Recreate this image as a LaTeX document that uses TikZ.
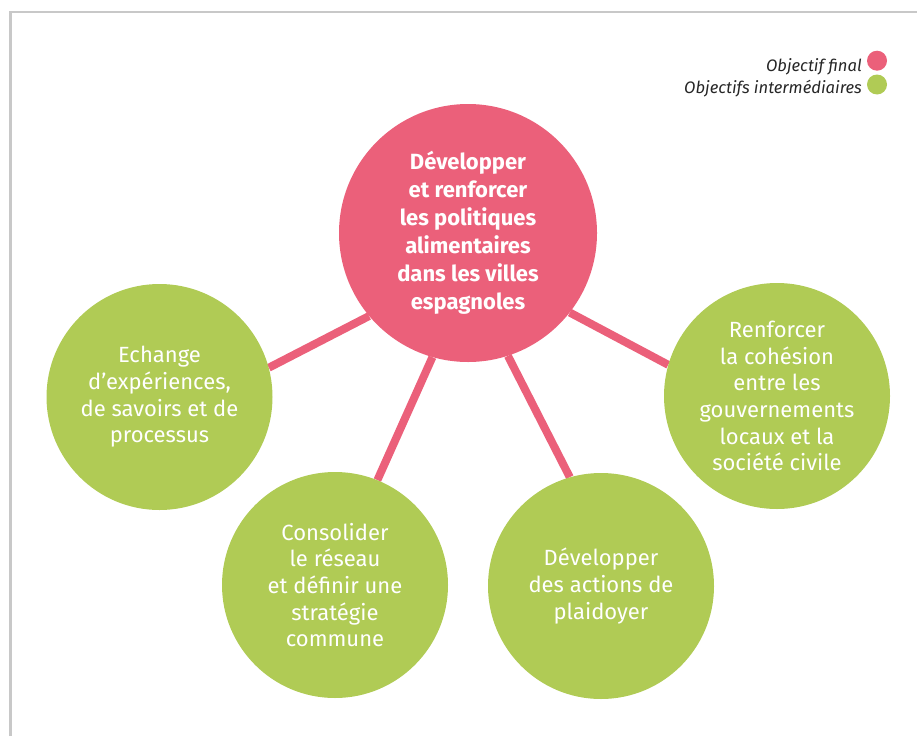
\documentclass[tikz,border=0pt]{standalone}
\usepackage{fontspec}
\setmainfont{Fira Sans}
\newfontfamily\cond{Fira Sans}
\newfontfamily\legfont{Fira Sans}
\usetikzlibrary{backgrounds}
\definecolor{pinkc}{HTML}{EB607A}
\definecolor{greenc}{HTML}{B0CB55}
\definecolor{framec}{HTML}{C8C8C8}
\begin{document}
\begin{tikzpicture}[x=1pt,y=-1pt,
  goal/.style={circle, fill=pinkc, minimum size=258pt, inner sep=0pt, text=white, align=center, font=\cond\bfseries\fontsize{22}{28}\selectfont},
  sub/.style={circle, fill=greenc, minimum size=226pt, inner sep=0pt, text=white, align=center, font=\cond\fontsize{22}{26.6}\selectfont},
  link/.style={draw=pinkc, line width=8pt},
  leg/.style={font=\legfont\itshape\fontsize{16.6}{19}\selectfont, anchor=base east, inner sep=0pt, text=black!85},
  dot/.style={circle, inner sep=0pt, minimum size=20pt}]
\useasboundingbox (0,0) rectangle (917,736);
\draw[framec, line width=2.7pt] (10.7,736) -- (10.7,12) -- (917,12);

\node[goal] (red) at (468,233) {Développer\\et renforcer\\les politiques\\alimentaires\\dans les villes\\espagnoles};
\node[sub] (gl) at (159.5,397) {Echange\\d’expériences,\\de savoirs et de\\processus};
\node[sub] (gbl) at (335,585) {Consolider\\le réseau\\et définir une\\stratégie\\commune};
\node[sub] (gbr) at (601,586) {Développer\\des actions de\\plaidoyer};
\node[sub] (gr) at (777,396) {Renforcer\\la cohésion\\entre les\\gouvernements\\locaux et la\\société civile};

\begin{pgfonlayer}{background}
\draw[link] (red.220.6) -- (gl.15.4);
\draw[link] (red.254) -- (gbl.68.7);
\draw[link] (red.288) -- (gbr.106.8);
\draw[link] (red.322) -- (gr.164);
\end{pgfonlayer}

\node[dot, fill=pinkc] (dotf) at (877,60.7) {};
\node[dot, fill=greenc] (doti) at (877,84.5) {};
\node[leg] (legf) at (862,71) {Objectif final};
\node[leg] (legi) at (862,93.5) {Objectifs intermédiaires};
\end{tikzpicture}
\end{document}
